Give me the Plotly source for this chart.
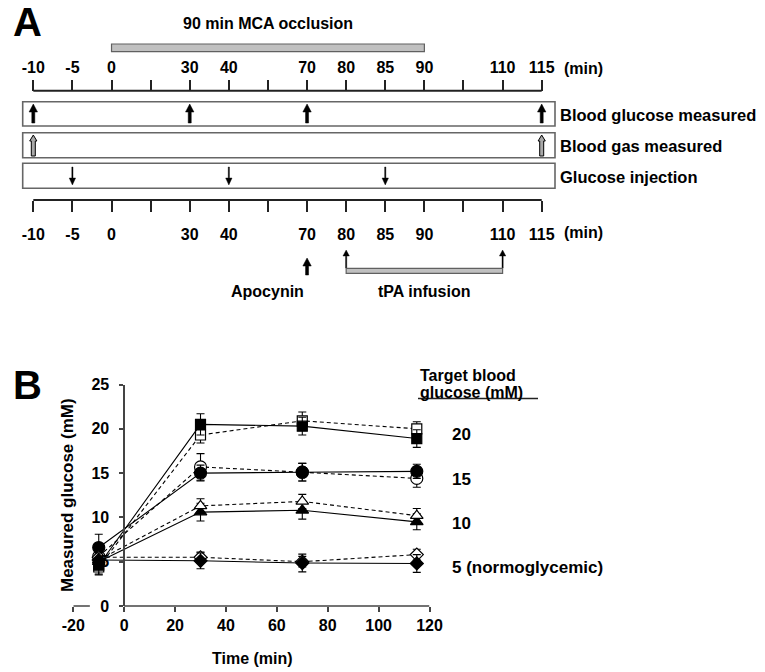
import plotly.graph_objects as go

# ---------------- Panel A data (timeline) ----------------
timeline_ticks = ["-10", "-5", "0", "", "30", "40", "", "70", "80", "85", "90", "", "110", "115"]
mca_occlusion_min = [0, 90]
glucose_measured_min = [-10, 30, 70, 115]
blood_gas_min = [-10, 115]
glucose_injection_min = [-5, 40, 85]
apocynin_min = [70]
tpa_infusion_min = [80, 110]
row_labels = ["Blood glucose measured", "Blood gas measured", "Glucose injection"]

# ---------------- Panel B data (measured glucose) ----------------
time_min = [-10, 30, 70, 115]
time_ticks = [-20, 0, 20, 40, 60, 80, 100, 120]
glucose_ticks = [0, 5, 10, 15, 20, 25]
target_values = [20, 15, 10, 5]
target_labels = ["20", "15", "10", "5 (normoglycemic)"]

g20_open = [4.4, 19.3, 20.9, 20.0]
g20_open_err = [0.9, 0.9, 1.0, 0.8]
g20_filled = [4.6, 20.5, 20.3, 18.9]
g20_filled_err = [1.0, 1.2, 1.0, 1.0]
g15_open = [5.6, 15.7, 15.1, 14.4]
g15_open_err = [1.0, 1.5, 1.0, 1.0]
g15_filled = [6.6, 15.0, 15.1, 15.2]
g15_filled_err = [1.5, 0.9, 1.0, 0.8]
g10_filled = [5.0, 10.6, 10.8, 9.5]
g10_filled_err = [0.8, 1.0, 1.0, 0.9]
g10_open = [5.2, 11.3, 11.8, 10.2]
g10_open_err = [0.8, 0.8, 0.8, 0.8]
g5_open = [5.5, 5.5, 5.0, 5.8]
g5_open_err = [0.6, 0.6, 0.6, 0.6]
g5_filled = [5.2, 5.1, 4.85, 4.8]
g5_filled_err = [0.8, 0.9, 1.0, 1.0]

# ---------------- geometry helpers ----------------
W, H = 765, 672
FONT = "Arial, Liberation Sans, sans-serif"
A_X0, A_STEP = 33.3, 39.108          # px of first tick, px per tick slot


def ix(minute):
    return timeline_ticks.index(str(minute))


def px_to_slot(px):
    return (px - A_X0) / A_STEP


def px(v):
    return v / W


def py(v):
    return 1 - v / H


fig = go.Figure()

# ---------------- Panel A arrows (polygons) ----------------
def arrow_trace(minutes, y_tail, y_tip, shaft_hw, head_hw, head_len, fill, lw):
    X, Y = [], []
    d = 1 if y_tip > y_tail else -1
    y_base = y_tip - d * head_len
    for m in minutes:
        xi = ix(m)
        pts = [(-shaft_hw, y_tail), (-shaft_hw, y_base), (-head_hw, y_base), (0, y_tip),
               (head_hw, y_base), (shaft_hw, y_base), (shaft_hw, y_tail), (-shaft_hw, y_tail)]
        for dx, yy in pts:
            X.append(xi + dx / A_STEP)
            Y.append(yy)
        X.append(None)
        Y.append(None)
    return go.Scatter(x=X, y=Y, xaxis="x", yaxis="y", mode="lines", fill="toself",
                      fillcolor=fill, line=dict(color="black", width=lw),
                      hoverinfo="skip", showlegend=False)


fig.add_trace(arrow_trace(glucose_measured_min, 123, 104, 1.5, 4.2, 8, "black", 0.5))
fig.add_trace(arrow_trace(blood_gas_min, 156, 135, 2.0, 3.6, 6, "#a8a8a8", 1.0))
fig.add_trace(arrow_trace(glucose_injection_min, 167, 185, 0.6, 3.2, 7, "black", 0.4))
fig.add_trace(arrow_trace(apocynin_min, 275, 258, 1.5, 4.2, 8, "black", 0.5))
fig.add_trace(arrow_trace(tpa_infusion_min, 268, 250, 0.6, 3.2, 6, "black", 0.4))

# ---------------- Panel B series ----------------
series = [
    (g20_open, g20_open_err, "square", False, 10),
    (g20_filled, g20_filled_err, "square", True, 10),
    (g15_open, g15_open_err, "circle", False, 12),
    (g15_filled, g15_filled_err, "circle", True, 12),
    (g10_filled, g10_filled_err, "triangle-up", True, 11),
    (g10_open, g10_open_err, "triangle-up", False, 11),
    (g5_open, g5_open_err, "diamond", False, 10),
    (g5_filled, g5_filled_err, "diamond", True, 10),
]
for vals, err, sym, filled, size in series:
    fig.add_trace(go.Scatter(
        x=time_min, y=vals, xaxis="x2", yaxis="y2", mode="lines+markers",
        line=dict(color="black", width=1.1, dash="solid" if filled else "4px,3px"),
        marker=dict(symbol=sym, size=size, color="black" if filled else "white",
                    line=dict(color="black", width=1.2)),
        error_y=dict(type="data", array=err, visible=True, color="black",
                     thickness=1.1, width=4),
        hoverinfo="skip", showlegend=False))

# ---------------- shapes ----------------
shapes = []
# timeline axis lines (from first to last tick)
for yline in (90.7, 200):
    shapes.append(dict(type="line", xref="x", yref="y", x0=0, x1=len(timeline_ticks) - 1,
                       y0=yline, y1=yline, line=dict(color="#222", width=2)))
# row boxes
box_l, box_r = px_to_slot(22.7), px_to_slot(555)
rows = [(101.7, 126), (132.7, 157.7), (163.3, 188.3)]
for (t, b) in rows:
    shapes.append(dict(type="rect", xref="x", yref="y", x0=box_l, x1=box_r, y0=t, y1=b,
                       line=dict(color="#666", width=1.6), fillcolor="rgba(0,0,0,0)",
                       layer="below"))
# MCA occlusion bar
shapes.append(dict(type="rect", xref="x", yref="y", x0=ix(mca_occlusion_min[0]),
                   x1=ix(mca_occlusion_min[1]), y0=44, y1=51.7,
                   line=dict(color="#606060", width=1.2), fillcolor="#c0c0c0"))
# tPA infusion bar
shapes.append(dict(type="rect", xref="x", yref="y", x0=ix(tpa_infusion_min[0]),
                   x1=ix(tpa_infusion_min[1]), y0=268.3, y1=273.3,
                   line=dict(color="#606060", width=1.2), fillcolor="#c0c0c0"))
# panel B x-axis line (broken where the y tick label "0" sits)
for x0, x1 in ((time_ticks[0], -13.5), (0, time_ticks[-1])):
    shapes.append(dict(type="line", xref="x2", yref="y2 domain", x0=x0, x1=x1, y0=0, y1=0,
                       line=dict(color="#444", width=1.5)))
# underline of legend header
shapes.append(dict(type="line", xref="paper", yref="paper", x0=px(418), x1=px(538),
                   y0=py(398.5), y1=py(398.5), line=dict(color="#222", width=1.3)))

# ---------------- annotations ----------------
ann = []


def text(t, x, y, size, bold=False, xanchor="center", xref="paper", yref="paper",
         angle=0, yshift=0):
    ann.append(dict(text=t, x=x, y=y, xref=xref, yref=yref, xanchor=xanchor,
                    yanchor="middle", showarrow=False, textangle=angle, yshift=yshift,
                    font=dict(family=FONT, size=size, color="black",
                              weight="bold" if bold else "normal")))


text("A", px(11), py(22), 40, bold=True, xanchor="left")
text("B", px(11), py(385), 40, bold=True, xanchor="left")
text("90 min MCA occlusion", (ix(mca_occlusion_min[0]) + ix(mca_occlusion_min[1])) / 2,
     py(24), 16, bold=True, xref="x")
text("(min)", px(562), py(69), 16, bold=True, xanchor="left")
text("(min)", px(562), py(232), 16, bold=True, xanchor="left")
for lab, (t, b) in zip(row_labels, rows):
    text(lab, px(558), py((t + b) / 2 + 1), 16.5, bold=True, xanchor="left")
text("Apocynin", px(267), py(291), 16, bold=True)
text("tPA infusion", (ix(tpa_infusion_min[0]) + ix(tpa_infusion_min[1])) / 2, py(291), 16,
     bold=True, xref="x")

text("Target blood", px(418), py(375), 16, bold=True, xanchor="left")
text("glucose (mM)", px(418), py(392), 16, bold=True, xanchor="left")
for lab, v in zip(target_labels, target_values):
    text(lab, px(450), v, 17, bold=True, xanchor="left", yref="y2", yshift=-6)
text("Measured glucose (mM)", px(67), py(495), 17, bold=True, angle=-90)
text("Time (min)", px(252.5), py(658), 16, bold=True)

# ---------------- layout ----------------
B_L, B_R, B_T, B_B = 73.3, 429.5, 384.5, 606
x2_range = [time_ticks[0], time_ticks[-1]]
y_axis_px = B_L + (0 - x2_range[0]) / (x2_range[1] - x2_range[0]) * (B_R - B_L)

tick_common = dict(tickmode="array", tickvals=list(range(len(timeline_ticks))),
                   ticktext=timeline_ticks, ticks="outside", ticklen=11, tickwidth=2,
                   tickcolor="#222", showline=False, showgrid=False, zeroline=False,
                   tickfont=dict(family=FONT, size=16, color="black", weight="bold"),
                   range=[px_to_slot(0), px_to_slot(W)], fixedrange=True)

fig.update_layout(
    width=W, height=H, margin=dict(l=0, r=0, t=0, b=0, autoexpand=False),
    paper_bgcolor="white", plot_bgcolor="rgba(0,0,0,0)",
    showlegend=False,
    xaxis=dict(domain=[0, 1], anchor="free", position=py(200), side="bottom",
               ticklabelstandoff=9, **tick_common),
    xaxis3=dict(overlaying="x", anchor="free", position=py(90.7), side="top",
                ticklabelstandoff=0, **tick_common),
    yaxis=dict(domain=[py(300), 1], range=[300, 0], visible=False, anchor="x",
               fixedrange=True),
    xaxis2=dict(domain=[px(B_L), px(B_R)], range=x2_range, anchor="y2",
                tickmode="array", tickvals=time_ticks,
                ticktext=[str(v) for v in time_ticks],
                ticks="outside", ticklen=5, tickwidth=1.5, tickcolor="#444",
                showline=False, showgrid=False, zeroline=False, fixedrange=True,
                tickfont=dict(family=FONT, size=16, color="black", weight="bold")),
    yaxis2=dict(domain=[py(B_B), py(B_T)], range=[glucose_ticks[0], glucose_ticks[-1]],
                anchor="free", position=px(y_axis_px), tickmode="array",
                tickvals=glucose_ticks, ticktext=[str(v) for v in glucose_ticks],
                ticks="outside", ticklen=4, tickwidth=1.5, tickcolor="#444",
                showline=True, linewidth=1.5, linecolor="#444", fixedrange=True,
                showgrid=False, zeroline=False, ticklabelstandoff=7,
                tickfont=dict(family=FONT, size=16, color="black", weight="bold")),
    shapes=shapes,
    annotations=ann,
)

# dummy trace so the top timeline axis is drawn
fig.add_trace(go.Scatter(x=[None], y=[None], xaxis="x3", yaxis="y", showlegend=False,
                         hoverinfo="skip"))

# remove the browser's default 8px page margin so the figure sits at the window origin
fig.write_html("out.html", config={"displayModeBar": False},
               post_script="document.body.style.margin='0';document.body.style.overflow='hidden';")
